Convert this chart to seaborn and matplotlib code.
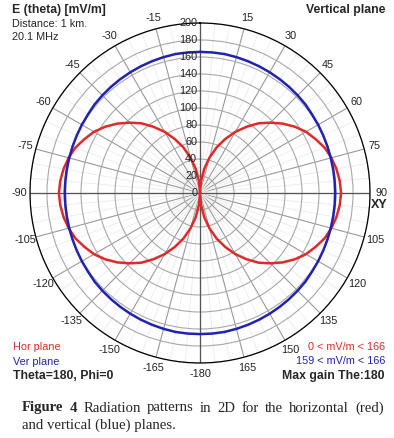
import numpy as np
import matplotlib
matplotlib.use("Agg")
import matplotlib.pyplot as plt
import seaborn as sns

# angles (deg from Z axis) for one half of the pattern, mirrored for the other half
half_angles = list(range(0, 185, 5))
hor_half = [0, 14, 29, 43, 57, 70, 83, 95, 107, 117, 127, 136, 144, 150, 156, 160, 163, 165,
            166, 165, 163, 160, 156, 150, 144, 136, 127, 117, 107, 95, 83, 70, 57, 43, 29, 14, 0]
ver_half = [166, 166, 166, 165.5, 165, 164.5, 164, 163.5, 163, 162.5, 162, 161, 160.5, 160,
            159.6, 159.3, 159.1, 159, 159, 159, 159.1, 159.3, 159.6, 160, 160.5, 161, 162,
            162.5, 163, 163.5, 164, 164.5, 165, 165.5, 166, 166, 166]
angle_labels = list(range(-165, 181, 15))
radial_labels = list(range(0, 201, 20))

angles = half_angles + [360 - a for a in reversed(half_angles[:-1])]
hor = hor_half + list(reversed(hor_half[:-1]))
ver = ver_half + list(reversed(ver_half[:-1]))
theta = np.deg2rad(angles)

sns.set_style("white")
plt.rcParams['font.family'] = ['Liberation Sans', 'DejaVu Sans']

red = '#dd2a2a'
blue = '#2222b0'
W, H = 394, 438

fig = plt.figure(figsize=(3.94, 4.38), dpi=100)
ax = fig.add_axes([30 / W, 75 / H, 340 / W, 340 / H], projection='polar')
ax.set_theta_zero_location('N')
ax.set_theta_direction(-1)
ax.set_ylim(0, 200)

# grid
ax.set_xticks(np.deg2rad(np.arange(0, 360, 15)))
ax.set_xticks(np.deg2rad(np.arange(0, 360, 5)), minor=True)
ax.set_yticks(radial_labels[1:])
ax.set_xticklabels([])
ax.set_yticklabels([])
ax.tick_params(length=0, which='both')
ax.xaxis.grid(True, which='major', color='#9a9a9a', lw=0.8)
ax.xaxis.grid(True, which='minor', color='#ebebeb', lw=0.6)
ax.yaxis.grid(True, color='#a8a8a8', lw=0.8)
for a in [0, 90, 180, 270]:
    ax.plot([np.deg2rad(a)] * 2, [0, 200], color='#555555', lw=0.9, zorder=1)
ax.spines['polar'].set_color('black')
ax.spines['polar'].set_linewidth(0.9)

sns.lineplot(x=theta, y=hor, ax=ax, sort=False, estimator=None, color=red, lw=1.8, zorder=3)
sns.lineplot(x=theta, y=ver, ax=ax, sort=False, estimator=None, color=blue, lw=1.8, zorder=3)
ax.set_xlabel('')
ax.set_ylabel('')

fs = 7.8
fb = 8.8
for v in radial_labels:
    ax.annotate(str(v), xy=(0, v), xytext=(-2, 0), textcoords='offset points',
                ha='right', va='center', fontsize=fs, color='#222222')
for a in angle_labels:
    if a == 0:
        continue
    ax.text(np.deg2rad(a), 213, str(a if a != 180 else -180), ha='center', va='center',
            fontsize=fs, color='#222222')
ax.annotate('0', xy=(0, 213), xytext=(-2, 0), textcoords='offset points',
            ha='right', va='center', fontsize=fs, color='#222222')
ax.annotate('Z', xy=(0, 213), xytext=(3, 1), textcoords='offset points',
            ha='left', va='center', fontsize=9.5, color='#222222')
ax.annotate('XY', xy=(np.pi / 2, 200), xytext=(1, -9), textcoords='offset points',
            ha='left', va='center', fontsize=9, fontweight='bold', color='#222222')

# header / footer texts
fig.text(12 / W, 1 - 10 / H, 'E (theta) [mV/m]', fontsize=fb, fontweight='bold', va='center')
fig.text(12 / W, 1 - 24 / H, 'Distance: 1 km.', fontsize=fs, va='center')
fig.text(12 / W, 1 - 37 / H, '20.1 MHz', fontsize=fs, va='center')
fig.text(385 / W, 1 - 10 / H, 'Vertical plane', fontsize=fb, fontweight='bold',
         ha='right', va='center')
fig.text(13 / W, 1 - 347 / H, 'Hor plane', fontsize=fs, color=red, va='center')
fig.text(13 / W, 1 - 362 / H, 'Ver plane', fontsize=fs, color=blue, va='center')
fig.text(13 / W, 1 - 376 / H, 'Theta=180, Phi=0', fontsize=fb, fontweight='bold', va='center')
fig.text(385 / W, 1 - 347 / H, '0 < mV/m < 166', fontsize=fs, color=red, ha='right', va='center')
fig.text(385 / W, 1 - 361 / H, '159 < mV/m < 166', fontsize=fs, color=blue, ha='right', va='center')
fig.text(385 / W, 1 - 376 / H, 'Max gain The:180', fontsize=fb, fontweight='bold',
         ha='right', va='center')

# caption, first line justified between x=22 and x=384
serif = ['Liberation Serif', 'DejaVu Serif']
cfs = 10.6
r = fig.canvas.get_renderer()
words = [('Figure', 'bold'), ('4', 'bold')] + [(w, 'normal') for w in
         'Radiation patterns in 2D for the horizontal (red)'.split()]
texts = [fig.text(0, 1 - 408 / H, w, family=serif, fontsize=cfs, fontweight=wt, va='center')
         for w, wt in words]
widths = [t.get_window_extent(r).width for t in texts]
gap = (384 - 22 - sum(widths)) / (len(words) - 1)
x = 22
for t, w in zip(texts, widths):
    t.set_x(x / W)
    x += w + gap
fig.text(22 / W, 1 - 425 / H, 'and vertical (blue) planes.', family=serif, fontsize=cfs,
         va='center')

fig.savefig('out.png', dpi=100)
